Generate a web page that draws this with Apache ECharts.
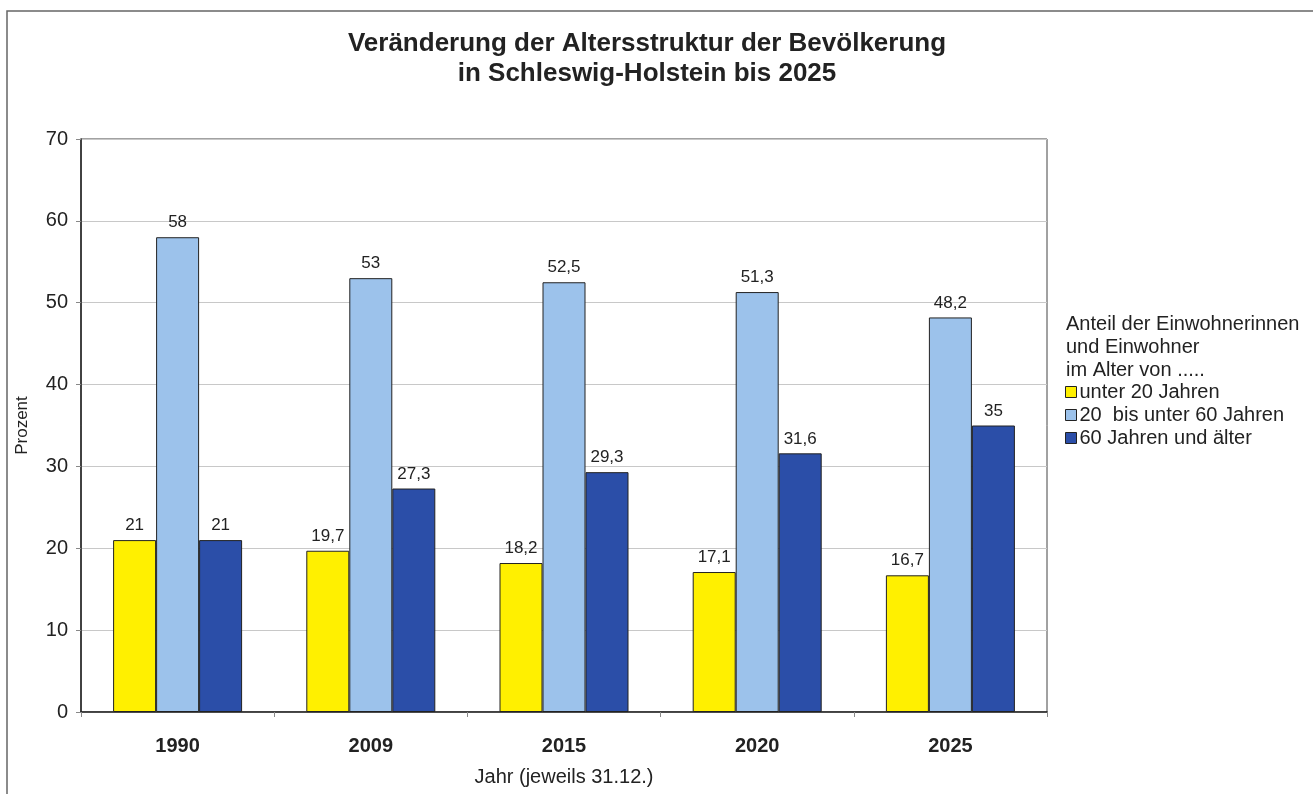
<!DOCTYPE html>
<html>
<head>
<meta charset="utf-8">
<script src="https://cdn.jsdelivr.net/npm/echarts@6/dist/echarts.min.js"></script>
<style>html,body{margin:0;padding:0;background:#fff;}#c{width:1313px;height:794px;}</style>
</head>
<body>
<div id="c"></div>
<script>
const categories = ['1990', '2009', '2015', '2020', '2025'];
const seriesNames = ['unter 20 Jahren', '20  bis unter 60 Jahren', '60 Jahren und älter'];
const under20 = [21, 19.7, 18.2, 17.1, 16.7];
const from20to60 = [58, 53, 52.5, 51.3, 48.2];
const over60 = [21, 27.3, 29.3, 31.6, 35];
const yTicks = [0, 10, 20, 30, 40, 50, 60, 70];
const colors = ['#FFF000', '#9CC2EB', '#2B4EA8'];

const font = '"Liberation Sans", Arial, sans-serif';
const chart = echarts.init(document.getElementById('c'));
const fmt = p => String(p.value).replace('.', ',');
function bar(name, data, color) {
  return {
    name: name, type: 'bar', data: data, barWidth: 43, barGap: '0%',
    itemStyle: { color: color, borderColor: '#222', borderWidth: 1 },
    label: { show: true, position: 'top', distance: 6, formatter: fmt,
      fontFamily: font, fontSize: 17, color: '#222' }
  };
}
chart.setOption({
  animation: false,
  backgroundColor: '#fff',
  title: [{
    text: 'Veränderung der Altersstruktur der Bevölkerung\nin Schleswig-Holstein bis 2025',
    left: 642, top: 24, textAlign: 'center',
    textStyle: { fontFamily: font, fontSize: 26, fontWeight: 'bold', color: '#222', lineHeight: 30 }
  }, {
    text: 'Anteil der Einwohnerinnen\nund Einwohner\nim Alter von .....',
    left: 1061, top: 308,
    textStyle: { fontFamily: font, fontSize: 20, fontWeight: 'normal', color: '#222', lineHeight: 23 }
  }],
  legend: {
    orient: 'vertical', left: 1060, top: 377, itemGap: 3,
    itemWidth: 11, itemHeight: 11, icon: 'rect',
    textStyle: { fontFamily: font, fontSize: 20, color: '#222', padding: [0, 0, 0, -2] },
    data: seriesNames,
    itemStyle: { borderColor: '#222', borderWidth: 1 }
  },
  grid: { left: 81, top: 139, width: 966, height: 573, show: true, borderColor: '#444', borderWidth: 1, containLabel: false },
  xAxis: {
    type: 'category', data: categories,
    name: 'Jahr (jeweils 31.12.)', nameLocation: 'middle', nameGap: 55,
    nameTextStyle: { fontFamily: font, fontSize: 20, color: '#222' },
    axisLine: { lineStyle: { color: '#222', width: 1.5 } },
    axisTick: { show: true, alignWithLabel: false, length: 5, lineStyle: { color: '#888' } },
    axisLabel: { fontFamily: font, fontSize: 20, fontWeight: 'bold', color: '#222', margin: 24 }
  },
  yAxis: {
    type: 'value', min: 0, max: 70, interval: 10,
    name: 'Prozent', nameLocation: 'middle', nameGap: 50, nameRotate: 90,
    nameTextStyle: { fontFamily: font, fontSize: 17, color: '#222' },
    axisLine: { show: true, lineStyle: { color: '#222', width: 1.5 } },
    axisTick: { show: true, length: 5, lineStyle: { color: '#888' } },
    axisLabel: { fontFamily: font, fontSize: 20, color: '#222', margin: 13,
      formatter: v => yTicks.includes(v) ? String(v) : '' },
    splitLine: { show: true, lineStyle: { color: '#c8c8c8', width: 1 } }
  },
  series: [
    bar(seriesNames[0], under20, colors[0]),
    bar(seriesNames[1], from20to60, colors[1]),
    bar(seriesNames[2], over60, colors[2])
  ],
  graphic: [{
    type: 'rect', silent: true, z: -1,
    shape: { x: 7, y: 11, width: 1320, height: 800 },
    style: { fill: 'none', stroke: '#666', lineWidth: 1.5 }
  }]
});
</script>
</body>
</html>
